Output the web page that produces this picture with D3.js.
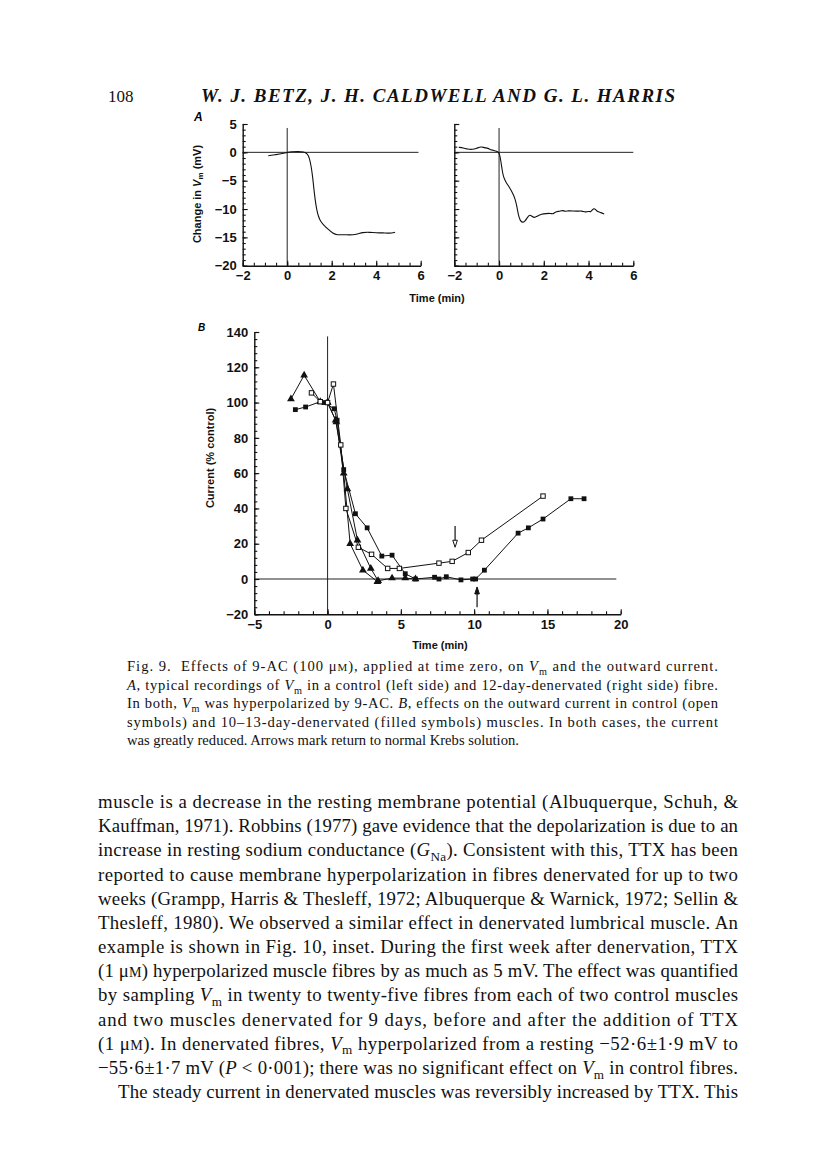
<!DOCTYPE html>
<html><head><meta charset="utf-8">
<script src="https://cdn.jsdelivr.net/npm/d3@7"></script>
<style>html,body{margin:0;padding:0;background:#fff}</style>
</head><body>
<svg id="fig" width="816" height="1155"></svg>
<script>
// ---------------- DATA ----------------
// Panel A, left (control fibre): [time (min), change in Vm (mV)]
const traceControl = [[-0.85,-0.6],[-0.5,-0.4],[-0.2,-0.2],[0,0],[0.2,0.1],[0.5,0.15],[0.75,0.1],[0.9,-0.2],[1.0,-1.0],[1.08,-2.5],[1.15,-4.5],[1.2,-6.5],[1.25,-8.2],[1.32,-10],[1.4,-11.3],[1.5,-12.2],[1.65,-12.9],[1.85,-13.6],[2.05,-14.3],[2.25,-14.6],[2.5,-14.5],[2.8,-14.6],[3.1,-14.5],[3.4,-14.1],[3.7,-14.1],[4.0,-14.2],[4.3,-14.2],[4.6,-14.3],[4.85,-14.1]];
// Panel A, right (12-day-denervated fibre)
const traceDenerv = [[-1.8,0.9],[-1.6,0.8],[-1.4,0.55],[-1.2,0.5],[-1.0,0.7],[-0.8,1.05],[-0.65,0.8],[-0.5,0.75],[-0.35,0.4],[-0.2,0.3],[-0.05,0.15],[0.02,-0.2],[0.08,-1.5],[0.14,-3.2],[0.2,-4.4],[0.3,-5.2],[0.45,-6.1],[0.6,-7.1],[0.72,-8.2],[0.8,-9.6],[0.87,-11.2],[0.95,-12.1],[1.05,-12.4],[1.15,-12.2],[1.25,-11.6],[1.35,-11.0],[1.45,-11.2],[1.58,-11.6],[1.72,-11.2],[1.9,-10.9],[2.1,-10.8],[2.3,-10.75],[2.42,-10.9],[2.5,-10.5],[2.7,-10.4],[2.85,-10.2],[2.95,-10.45],[3.1,-10.3],[3.3,-10.35],[3.5,-10.4],[3.7,-10.3],[3.85,-10.6],[4.0,-10.35],[4.1,-10.6],[4.22,-9.8],[4.32,-10.1],[4.4,-10.5],[4.55,-10.6],[4.7,-10.9]];

// Panel B: [time (min), current (% control)]
const openSquares = [[-1.1,105.5],[-0.5,100.5],[0,100],[0.4,110.5],[0.9,76],[1.25,40],[2.1,18],[3.0,14],[4.1,6],[4.9,6],[7.6,9],[8.5,10],[9.6,15],[10.5,22],[14.7,47]];
const filledSquares = [[-2.2,96],[-1.5,97.5],[-0.5,100.5],[-0.25,100],[0.45,96.5],[0.65,90],[1.1,62],[1.9,37],[2.7,29],[3.7,13],[4.4,13.5],[5.3,3],[6.0,0],[7.3,1],[7.6,0],[8.1,1.3],[9.1,-0.5],[9.9,0],[10.1,0],[10.7,5],[13.0,26],[13.7,29],[14.7,34],[16.6,45.5],[17.5,45.5]];
const filledTriangles1 = [[-2.5,102],[-1.6,115.5],[-0.5,100.5],[0,100],[0.55,90],[1.35,51],[2.04,22],[2.95,6],[3.45,-1],[4.4,0.5],[5.3,0.5],[6.0,0]];
const filledTriangles2 = [[0,100],[0.6,89],[1.1,60],[1.54,20],[2.41,5],[3.4,-1.5]];
// Arrows marking return to normal Krebs solution
const arrows = [{x:8.7, from:30, to:18, open:true}, {x:10.2, from:-16, to:-4.5, open:false}];

// Tick labels
const ticksA_x = [-2,0,2,4,6];
const ticksA_y = [-20,-15,-10,-5,0,5];
const ticksB_x = [-5,0,5,10,15,20];
const ticksB_y = [-20,0,20,40,60,80,100,120,140];

// Texts
const headerPage = "108";
const headerTitle = "W. J. BETZ, J. H. CALDWELL AND G. L. HARRIS";
const captionLines = [
 "Fig. 9.  Effects of 9-AC (100 μ^M^), applied at time zero, on *V*~m~ and the outward current.",
 "*A*, typical recordings of *V*~m~ in a control (left side) and 12-day-denervated (right side) fibre.",
 "In both, *V*~m~ was hyperpolarized by 9-AC. *B*, effects on the outward current in control (open",
 "symbols) and 10–13-day-denervated (filled symbols) muscles. In both cases, the current",
 "was greatly reduced. Arrows mark return to normal Krebs solution."
];
const bodyLines = [
 "muscle is a decrease in the resting membrane potential (Albuquerque, Schuh, &",
 "Kauffman, 1971). Robbins (1977) gave evidence that the depolarization is due to an",
 "increase in resting sodium conductance (*G*~Na~). Consistent with this, TTX has been",
 "reported to cause membrane hyperpolarization in fibres denervated for up to two",
 "weeks (Grampp, Harris & Thesleff, 1972; Albuquerque & Warnick, 1972; Sellin &",
 "Thesleff, 1980). We observed a similar effect in denervated lumbrical muscle. An",
 "example is shown in Fig. 10, inset. During the first week after denervation, TTX",
 "(1 μ^M^) hyperpolarized muscle fibres by as much as 5 mV. The effect was quantified",
 "by sampling *V*~m~ in twenty to twenty-five fibres from each of two control muscles",
 "and two muscles denervated for 9 days, before and after the addition of TTX",
 "(1 μ^M^). In denervated fibres, *V*~m~ hyperpolarized from a resting −52·6±1·9 mV to",
 "−55·6±1·7 mV (*P* < 0·001); there was no significant effect on *V*~m~ in control fibres.",
 "The steady current in denervated muscles was reversibly increased by TTX. This"
];

// ---------------- DRAWING ----------------
const svg = d3.select("#fig");
svg.append("rect").attr("width",816).attr("height",1155).attr("fill","#fff");
const SANS = "'Liberation Sans', Arial, Helvetica, sans-serif";
const SERIF = "'Liberation Serif', 'Times New Roman', serif";

function axes(g, x, y, o){
  const xg = g.append("g").attr("transform",`translate(0,${y.range()[0]})`);
  xg.call(d3.axisBottom(x).tickValues(o.xt).tickSizeInner(-5).tickSizeOuter(0).tickPadding(5)
      .tickFormat(d=>d3.format("d")(d).replace("-","−")));
  const xm = g.append("g").attr("transform",`translate(0,${y.range()[0]})`);
  xm.call(d3.axisBottom(x).tickValues(o.xm).tickSizeInner(-3).tickSizeOuter(0).tickFormat(""));
  xm.select(".domain").remove();
  const yg = g.append("g").attr("transform",`translate(${x.range()[0]},0)`);
  yg.call(d3.axisLeft(y).tickValues(o.yt).tickSizeInner(-5).tickSizeOuter(0).tickPadding(6)
      .tickFormat(o.ylabels ? (d=>d3.format("d")(d).replace("-","−")) : ""));
  const ym = g.append("g").attr("transform",`translate(${x.range()[0]},0)`);
  ym.call(d3.axisLeft(y).tickValues(o.ym).tickSizeInner(-3).tickSizeOuter(0).tickFormat(""));
  ym.select(".domain").remove();
  g.selectAll(".domain").attr("stroke","#111").attr("stroke-width",1.4);
  g.selectAll(".tick line").attr("stroke","#111").attr("stroke-width",1.1);
  g.selectAll(".tick text").attr("font-family",SANS).attr("font-weight","bold")
    .attr("font-size",o.fs).attr("fill","#111");
}

// ---- Panel A ----
const yA = d3.scaleLinear().domain([-20,5]).range([265.7,124]);
const xAL = d3.scaleLinear().domain([-2,6]).range([242.7,420.7]);
const xAR = d3.scaleLinear().domain([-2,6]).range([454.3,633.3]);
const minorAx = d3.range(-2,6.01,0.5), minorAy = d3.range(-20,5.01,1);

[[xAL, traceControl, true, 5.9],[xAR, traceDenerv, false, 6]].forEach(([x, tr, lab, hEnd])=>{
  const g = svg.append("g");
  g.append("line").attr("x1",x(-2)).attr("x2",x(hEnd)).attr("y1",yA(0)).attr("y2",yA(0))
    .attr("stroke","#222").attr("stroke-width",1);
  g.append("line").attr("x1",x(0)).attr("x2",x(0)).attr("y1",yA(4.3)).attr("y2",yA(-20))
    .attr("stroke","#222").attr("stroke-width",1);
  axes(g, x, yA, {xt:ticksA_x, xm:minorAx, yt:ticksA_y, ym:minorAy, ylabels:lab, fs:13});
  g.append("path").datum(tr).attr("fill","none").attr("stroke","#111").attr("stroke-width",1.1)
    .attr("d", d3.line().x(d=>x(d[0])).y(d=>yA(d[1])).curve(d3.curveBasis));
});
svg.append("text").attr("x",194).attr("y",121).attr("font-family",SANS).attr("font-weight","bold")
  .attr("font-style","italic").attr("font-size",12).text("A");
{
  const t = svg.append("text").attr("transform","translate(201,194) rotate(-90)").attr("text-anchor","middle")
    .attr("font-family",SANS).attr("font-weight","bold").attr("font-size",11).attr("fill","#111");
  t.append("tspan").text("Change in ");
  t.append("tspan").attr("font-style","italic").text("V");
  t.append("tspan").attr("font-size",8).attr("dy",2).text("m");
  t.append("tspan").attr("dy",-2).text(" (mV)");
}
svg.append("text").attr("x",437).attr("y",302).attr("text-anchor","middle").attr("font-family",SANS)
  .attr("font-weight","bold").attr("font-size",11).attr("fill","#111").text("Time (min)");

// ---- Panel B ----
const xB = d3.scaleLinear().domain([-5,20]).range([254.3,620.7]);
const yB = d3.scaleLinear().domain([-20,140]).range([614.3,332]);
const gB = svg.append("g");
gB.append("line").attr("x1",xB(-5)).attr("x2",xB(19.7)).attr("y1",yB(0)).attr("y2",yB(0))
  .attr("stroke","#222").attr("stroke-width",1);
gB.append("line").attr("x1",xB(0)).attr("x2",xB(0)).attr("y1",yB(137.5)).attr("y2",yB(-20))
  .attr("stroke","#222").attr("stroke-width",1);
axes(gB, xB, yB, {xt:ticksB_x, xm:d3.range(-5,20.01,1), yt:ticksB_y, ym:d3.range(-20,140.01,4), ylabels:true, fs:13});

const lineB = d3.line().x(d=>xB(d[0])).y(d=>yB(d[1]));
[filledTriangles2, filledTriangles1, openSquares, filledSquares].forEach(s=>{
  gB.append("path").datum(s).attr("fill","none").attr("stroke","#111").attr("stroke-width",1).attr("d",lineB);
});
const tri = d3.symbol().type(d3.symbolTriangle).size(26);
[filledTriangles1, filledTriangles2].forEach(s=>{
  gB.selectAll(null).data(s).join("path").attr("d",tri)
    .attr("transform",d=>`translate(${xB(d[0])},${yB(d[1])})`).attr("fill","#111");
});
gB.selectAll(null).data(filledSquares).join("rect")
  .attr("x",d=>xB(d[0])-2.4).attr("y",d=>yB(d[1])-2.4).attr("width",4.8).attr("height",4.8).attr("fill","#111");
gB.selectAll(null).data(openSquares).join("rect")
  .attr("x",d=>xB(d[0])-2.2).attr("y",d=>yB(d[1])-2.2).attr("width",4.4).attr("height",4.4)
  .attr("fill","#fff").attr("stroke","#111").attr("stroke-width",1);
arrows.forEach(a=>{
  const x0 = xB(a.x), y0 = yB(a.from), y1 = yB(a.to);
  const dir = Math.sign(y1-y0), head = 7;
  const yb = y1 - dir*head;
  gB.append("line").attr("x1",x0).attr("x2",x0).attr("y1",y0).attr("y2",yb)
    .attr("stroke","#111").attr("stroke-width",1.2);
  gB.append("path").attr("d",`M${x0-2.3},${yb}L${x0+2.3},${yb}L${x0},${y1}Z`)
    .attr("fill",a.open?"#fff":"#111").attr("stroke","#111").attr("stroke-width",1);
});
svg.append("text").attr("x",198).attr("y",331).attr("font-family",SANS).attr("font-weight","bold")
  .attr("font-style","italic").attr("font-size",10).text("B");
svg.append("text").attr("transform","translate(214,458) rotate(-90)").attr("text-anchor","middle")
  .attr("font-family",SANS).attr("font-weight","bold").attr("font-size",11).attr("fill","#111")
  .text("Current (% control)");
svg.append("text").attr("x",440).attr("y",649).attr("text-anchor","middle").attr("font-family",SANS)
  .attr("font-weight","bold").attr("font-size",11).attr("fill","#111").text("Time (min)");

// ---------------- TEXT ----------------
function richText(parent, str, x, y, fs, width){
  const t = parent.append("text").attr("x",x).attr("y",y).attr("font-family",SERIF)
    .attr("font-size",fs).attr("fill","#111").attr("xml:space","preserve");
  const parts = str.split(/(\*[^*]+\*|~[^~]+~|\^[^^]+\^)/).filter(p=>p.length);
  let shifted = false;
  parts.forEach(p=>{
    let ts;
    if (p[0]==="*"){ ts=t.append("tspan").attr("font-style","italic").text(p.slice(1,-1)); }
    else if (p[0]==="~"){ t.append("tspan").attr("font-size",fs*0.7).attr("dy",fs*0.25).text(p.slice(1,-1)); shifted=true; return; }
    else if (p[0]==="^"){ ts=t.append("tspan").attr("font-size",fs*0.75).text(p.slice(1,-1)); }
    else { ts=t.append("tspan").text(p); }
    if (shifted){ ts.attr("dy",-fs*0.25); shifted=false; }
  });
  if (width){
    t.attr("textLength", width).attr("lengthAdjust","spacing");
  }
  return t;
}
svg.append("text").attr("x",108).attr("y",102).attr("font-family",SERIF).attr("font-size",17)
  .attr("fill","#111").text(headerPage);
svg.append("text").attr("x",201).attr("y",102).attr("font-family",SERIF)
  .attr("font-style","italic").attr("font-weight","bold").attr("font-size",19).attr("textLength",474).attr("lengthAdjust","spacing")
  .attr("fill","#111").text(headerTitle);

const capY = [671, 690, 708, 727, 745];
captionLines.forEach((l,i)=>{
  richText(svg, l, 127, capY[i], 14.6, i<captionLines.length-1 ? 591 : null);
});
const bodyY0 = 808, bodyDY = 24.17;
bodyLines.forEach((l,i)=>{
  const last = i===bodyLines.length-1;
  richText(svg, l, last?118:98, bodyY0+i*bodyDY, 18.8, last? 620 : 640);
});
</script>
</body></html>
